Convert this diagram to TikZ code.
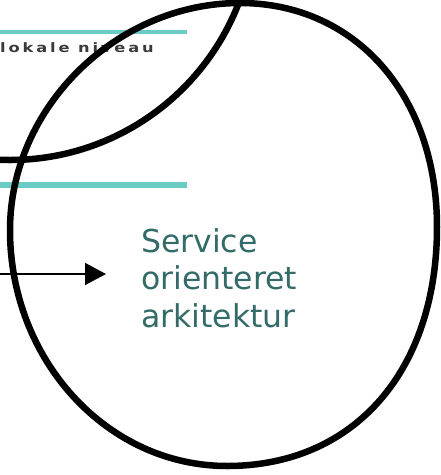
\documentclass[tikz,border=0pt]{standalone}
\usepackage{fontspec}
\setmainfont{DejaVu Sans}
\newfontfamily\lblfont[LetterSpace=22,FakeStretch=1.25]{DejaVu Sans}
\usetikzlibrary{arrows.meta}
\definecolor{teal1}{RGB}{104,204,197}
\definecolor{soagreen}{RGB}{51,107,104}
\definecolor{lblgray}{RGB}{58,58,58}

\begin{document}
\begin{tikzpicture}[x=1pt,y=-1pt]
\useasboundingbox (0,0) rectangle (441,475);
\clip (0,0) rectangle (441,475);

\draw[teal1,line width=4pt]   (0,32)  -- (187,32);
\draw[teal1,line width=5.5pt] (0,185) -- (187,185);

\node[anchor=base west,inner sep=0pt,text=lblgray,
      font=\lblfont\bfseries\fontsize{13}{15}\selectfont]
    (lokal) at (0,52) {lokale niveau};

\node[anchor=base west,inner sep=0pt,align=left,text=soagreen,
      font=\fontsize{31.5}{37.5}\selectfont]
    (soa) at (141,327) {Service\\orienteret\\arkitektur};

\coordinate (arrstart) at (0,274);
\coordinate (arrend)   at (106,274);
\draw[-{Triangle[length=21pt,width=22pt]},line width=1.5pt] (arrstart) -- (arrend);

% cirkler
\draw[line width=6.5pt] (10,-85) circle[radius=245pt];
\draw[line width=6.5pt] (240,3)
    .. controls (355,3)   and (437,95)  .. (437,227)
    .. controls (437,370) and (355,466) .. (227,466)
    .. controls (107,466) and (10,360)  .. (10,230)
    .. controls (10,108)  and (116,3)   .. (240,3);
\end{tikzpicture}
\end{document}
